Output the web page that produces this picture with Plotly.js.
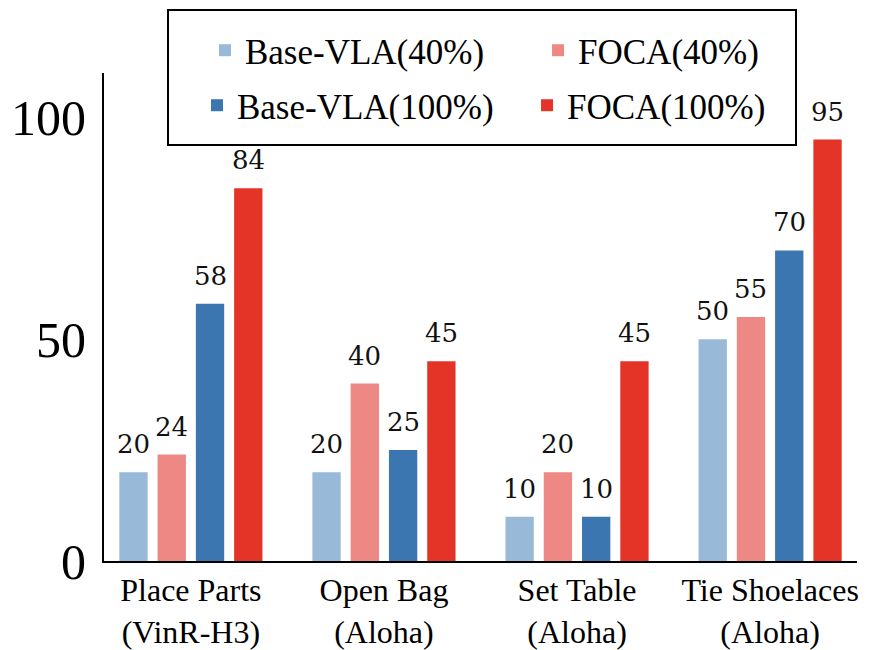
<!DOCTYPE html>
<html>
<head>
<meta charset="utf-8">
<script src="https://cdn.plot.ly/plotly-3.0.1.min.js"></script>
<style>html,body{margin:0;padding:0;background:#fff;}#chart{width:877px;height:650px;}</style>
</head>
<body>
<div id="chart"></div>
<script>
const categories = ["Place Parts<br>(VinR-H3)", "Open Bag<br>(Aloha)", "Set Table<br>(Aloha)", "Tie Shoelaces<br>(Aloha)"];
const seriesNames = ["Base-VLA(40%)", "FOCA(40%)", "Base-VLA(100%)", "FOCA(100%)"];
const baseVLA40 = [20, 20, 10, 50];
const foca40 = [24, 40, 20, 55];
const baseVLA100 = [58, 25, 10, 70];
const foca100 = [84, 45, 45, 95];
const yTicks = [0, 50, 100];

const seriesValues = [baseVLA40, foca40, baseVLA100, foca100];
const colors = ["#98bad8", "#ee8884", "#3b76b0", "#e43427"];
const legendIds = ["legend", "legend2", "legend3", "legend4"];
const legendX = [0.1341, 0.5764, 0.1235, 0.5618];
const legendY = [1.1066, 1.1066, 0.9939, 0.9939];

const bargap = 0.207, bargroupgap = 0.26;
const xRange = [-0.45, 3.45];
const plotW = 877 - 104 - 20;
const catPx = plotW / (xRange[1] - xRange[0]);
const slotPx = catPx * (1 - bargap) / seriesValues.length;

const traces = seriesValues.map((vals, i) => ({
  type: "bar",
  name: seriesNames[i],
  legend: legendIds[i],
  x: categories,
  y: vals,
  marker: {color: colors[i], line: {width: 0}}
}));

const annotations = [];
seriesValues.forEach((vals, i) => {
  vals.forEach((v, j) => {
    annotations.push({
      x: categories[j], y: v, xref: "x", yref: "y",
      text: String(v), showarrow: false,
      xanchor: "center", yanchor: "bottom",
      xshift: (i - (seriesValues.length - 1) / 2) * slotPx,
      yshift: 11,
      font: {family: "DejaVu Serif", size: 26, color: "#111"}
    });
  });
});

const layout = {
  width: 877, height: 650,
  margin: {l: 104, r: 20, t: 73, b: 89},
  paper_bgcolor: "#fff", plot_bgcolor: "#fff",
  barmode: "group",
  bargap: bargap,
  bargroupgap: bargroupgap,
  font: {family: "Liberation Serif", color: "#000"},
  xaxis: {
    range: xRange,
    showline: true, linecolor: "#000", linewidth: 2,
    ticks: "", showgrid: false, zeroline: false,
    tickfont: {family: "Liberation Serif", size: 32, color: "#000"}
  },
  yaxis: {
    range: [0, 110],
    tickvals: yTicks,
    showline: true, linecolor: "#000", linewidth: 2,
    ticks: "", showgrid: false, zeroline: false,
    ticklabelstandoff: 6,
    tickfont: {family: "Liberation Serif", size: 50, color: "#000"}
  },
  showlegend: true,
  annotations: annotations,
  shapes: [{
    type: "rect", xref: "paper", yref: "paper",
    x0: 0.085, x1: 0.919, y0: 0.8525, y1: 1.129,
    line: {color: "#000", width: 2},
    fillcolor: "#fff",
    layer: "above"
  }]
};

legendIds.forEach((id, i) => {
  layout[id] = {
    orientation: "h",
    x: legendX[i], xanchor: "left",
    y: legendY[i], yanchor: "top",
    borderwidth: 0,
    bgcolor: "rgba(0,0,0,0)",
    font: {family: "Liberation Serif", size: 35, color: "#000"}
  };
});

Plotly.newPlot("chart", traces, layout, {displayModeBar: false, staticPlot: true});
</script>
</body>
</html>
